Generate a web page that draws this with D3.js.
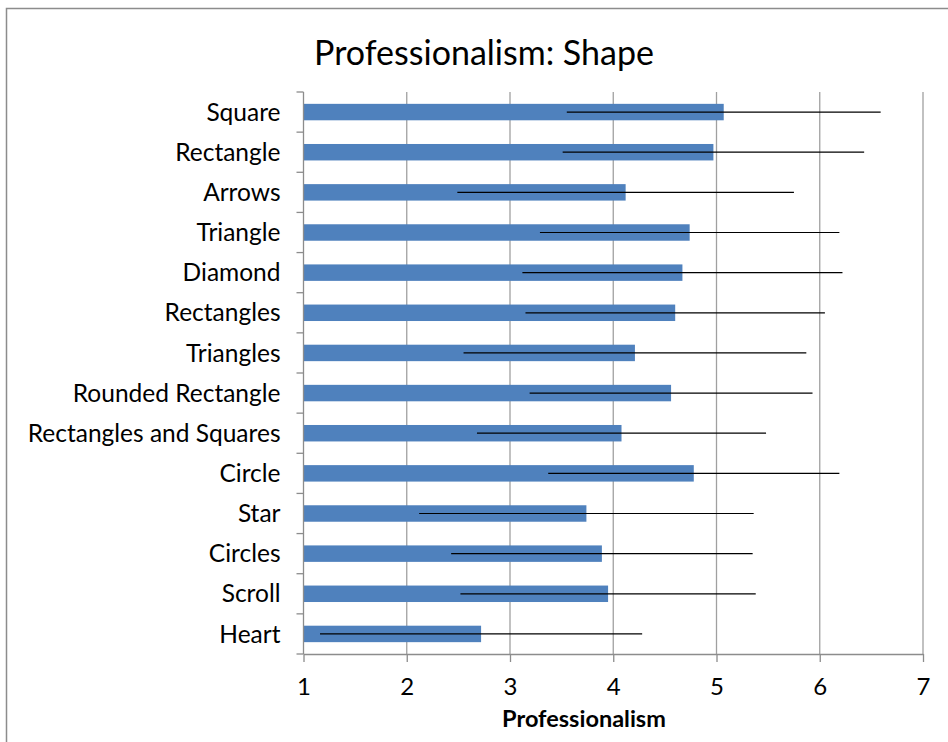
<!DOCTYPE html>
<html lang="en">

<head>
    <meta charset="UTF-8">
    <style>
        body { margin: 0; background: #fff; }
        text { font-family: Lato, "Liberation Sans", sans-serif; fill: #000; }
    </style>
</head>

<body>
    <svg width="948" height="742"></svg>
    <script src="https://d3js.org/d3.v7.min.js"></script>
    <script>
        // shapes, top to bottom
        const categories = ["Square", "Rectangle", "Arrows", "Triangle", "Diamond", "Rectangles",
            "Triangles", "Rounded Rectangle", "Rectangles and Squares", "Circle", "Star",
            "Circles", "Scroll", "Heart"]
        const means = [5.07, 4.97, 4.12, 4.74, 4.67, 4.60, 4.21, 4.56, 4.08, 4.78, 3.74, 3.89, 3.95, 2.72]
        const errors = [1.52, 1.46, 1.63, 1.45, 1.55, 1.45, 1.66, 1.37, 1.40, 1.41, 1.62, 1.46, 1.43, 1.56]
        const xTicks = [1, 2, 3, 4, 5, 6, 7]

        const rows = categories.map((c, i) => ({ name: c, mean: means[i], err: errors[i] }))

        const svg = d3.select("svg")
        const gray = "#8c8c8c"

        // chart frame
        svg.append("rect")
            .attr("x", 6.5).attr("y", 8.5)
            .attr("width", 1000).attr("height", 800)
            .attr("fill", "none")
            .attr("stroke", gray)
            .attr("stroke-width", 1.5)

        const x = d3.scaleLinear().domain([1, 7]).range([303.5, 923])
        const y = d3.scaleBand().domain(categories).range([92, 654])
        const barH = y.bandwidth() * 0.41

        // gridlines
        svg.append("g").selectAll("line")
            .data(xTicks.slice(1))
            .enter().append("line")
            .attr("x1", d => x(d)).attr("x2", d => x(d))
            .attr("y1", 92).attr("y2", 654)
            .attr("stroke", "#a0a0a0")
            .attr("stroke-width", 1.3)

        // bars
        svg.append("g").selectAll("rect")
            .data(rows)
            .enter().append("rect")
            .attr("x", x(1))
            .attr("y", d => y(d.name) + (y.bandwidth() - barH) / 2)
            .attr("width", d => x(d.mean) - x(1))
            .attr("height", barH)
            .attr("fill", "#4f81bd")

        // error bars (no caps)
        svg.append("g").selectAll("line")
            .data(rows)
            .enter().append("line")
            .attr("x1", d => x(d.mean - d.err))
            .attr("x2", d => x(d.mean + d.err))
            .attr("y1", d => y(d.name) + y.bandwidth() / 2)
            .attr("y2", d => y(d.name) + y.bandwidth() / 2)
            .attr("stroke", "#000")
            .attr("stroke-width", 1.2)

        // x axis
        const xAxis = svg.append("g")
            .attr("transform", "translate(0,654)")
            .call(d3.axisBottom(x).tickValues(xTicks).tickFormat(d3.format("d"))
                .tickSize(8).tickPadding(16).tickSizeOuter(0))
        xAxis.select(".domain").attr("stroke", gray).attr("stroke-width", 1.3)
        xAxis.selectAll(".tick line").attr("stroke", gray).attr("stroke-width", 1.3)
        xAxis.selectAll("text").style("font-size", "24px")

        // y axis: ticks sit between categories
        const yAxis = svg.append("g").attr("transform", "translate(303.5,0)")
        yAxis.append("line")
            .attr("y1", 92).attr("y2", 654)
            .attr("stroke", gray).attr("stroke-width", 1.3)
        yAxis.selectAll(".sep")
            .data(categories.concat(["_end"]))
            .enter().append("line")
            .attr("class", "sep")
            .attr("x1", -7).attr("x2", 0)
            .attr("y1", (d, i) => 92 + i * y.step())
            .attr("y2", (d, i) => 92 + i * y.step())
            .attr("stroke", gray).attr("stroke-width", 1.3)
        yAxis.selectAll(".lab")
            .data(categories)
            .enter().append("text")
            .attr("class", "lab")
            .attr("x", -23)
            .attr("y", d => y(d) + y.bandwidth() / 2)
            .attr("dy", "0.35em")
            .attr("text-anchor", "end")
            .style("font-size", "24.5px")
            .text(d => d)

        // titles
        svg.append("text")
            .attr("x", 484).attr("y", 65)
            .attr("text-anchor", "middle")
            .style("font-size", "34px")
            .text("Professionalism: Shape")

        svg.append("text")
            .attr("x", 584).attr("y", 727)
            .attr("text-anchor", "middle")
            .style("font-size", "23.5px")
            .style("font-weight", "bold")
            .text("Professionalism")
    </script>
</body>

</html>
